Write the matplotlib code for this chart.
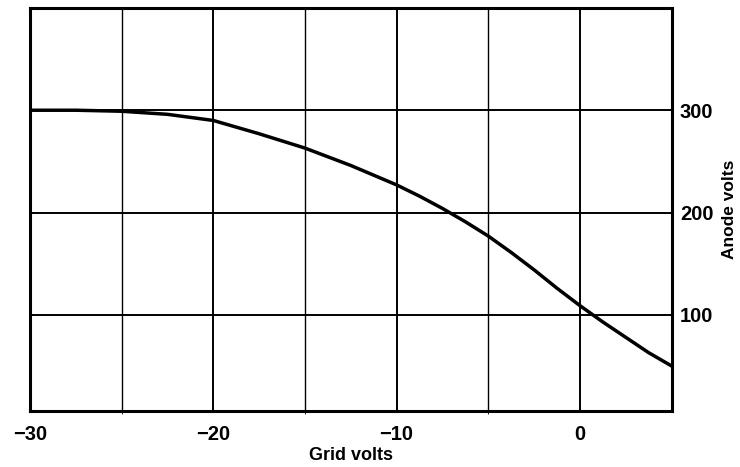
import matplotlib
matplotlib.use("Agg")
import matplotlib.pyplot as plt

# valores
grid_v = [-30, -27.5, -25, -22.5, -20, -17.5, -15, -12.5, -10, -8.75, -7.5, -6.25,
          -5, -3.75, -2.5, -1.25, 0, 1.25, 2.5, 3.75, 5]
anode_v = [300, 300, 299, 296, 290, 277, 263, 246, 227, 216, 204, 191,
           177, 161, 144, 126, 109, 93, 78, 63, 50]

x_ticks = [-30, -20, -10, 0]
x_tick_labels = ["\u221230", "\u221220", "\u221210", "0"]
y_ticks = [100, 200, 300]

plt.rcParams['font.family'] = ['Liberation Sans', 'DejaVu Sans']

fig = plt.figure(figsize=(7.4, 4.67), dpi=100)
ax = fig.add_axes([0.0405, 0.12, 0.867, 0.863])

ax.plot(grid_v, anode_v, color="black", lw=2.5, solid_joinstyle="round")

ax.set_xlim(-30, 5); ax.set_ylim(6, 400)
ax.set_xticks(x_ticks); ax.set_xticklabels(x_tick_labels)
ax.set_xticks(range(-25, 5, 10), minor=True)
ax.yaxis.tick_right(); ax.yaxis.set_label_position("right")
ax.set_yticks(y_ticks)
ax.tick_params(length=0, labelsize=14.5, pad=10)
ax.tick_params(axis="y", pad=6)
for lbl in ax.get_xticklabels() + ax.get_yticklabels():
    lbl.set_fontweight("bold")

ax.grid(True, which="major", color="black", lw=1.4)
ax.grid(True, which="minor", axis="x", color="black", lw=1.0)
for s in ax.spines.values():
    s.set_linewidth(2.2)

ax.set_xlabel("Grid volts", fontsize=13, fontweight="bold", labelpad=2)
ax.set_ylabel("Anode volts", fontsize=12.5, fontweight="bold", labelpad=6)

fig.savefig("out.png", dpi=100)
